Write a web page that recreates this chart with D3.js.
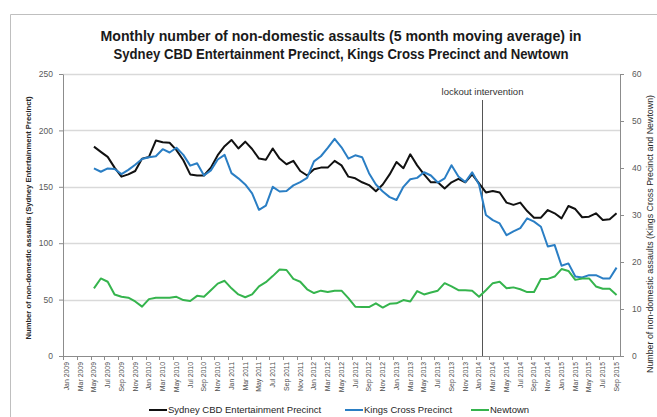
<!DOCTYPE html>
<html>
<head>
<meta charset="utf-8">
<script src="https://cdnjs.cloudflare.com/ajax/libs/d3/7.8.5/d3.min.js"></script>
<style>
body { margin: 0; background: #fff; }
svg { font-family: "Liberation Sans", Arial, sans-serif; }
</style>
</head>
<body>
<svg id="chart" width="657" height="417"></svg>
<script>
// categories: every month from Jan 2009 to Sep 2015
var monthNames = ["Jan","Feb","Mar","Apr","May","Jun","Jul","Aug","Sep","Oct","Nov","Dec"];
var years = [2009, 2010, 2011, 2012, 2013, 2014, 2015];
var lastMonth = "Sep 2015";
var firstDataMonth = "May 2009";
var lockoutMonth = "Feb 2014";

var months = [];
years.forEach(function (y) {
	monthNames.forEach(function (m) { months.push(m + " " + y); });
});
months = months.slice(0, months.indexOf(lastMonth) + 1);

// Sydney CBD Entertainment Precinct (left axis), May 2009 - Sep 2015
var sydney = [
	185.6, 181, 176.5, 167, 159, 161, 164, 175,
	176.5, 191, 189.5, 189, 182.5, 173.5, 161, 160, 160, 167, 178, 186,
	191.5, 184, 190, 183.5, 175, 174, 184, 175, 170, 173, 164, 160,
	165.5, 167, 167, 173, 169, 159, 157.5, 154, 151.5, 146, 152, 161,
	172, 166.5, 178.8, 169, 161, 154, 154, 148.6, 154, 157, 154, 161,
	153, 145, 146.3, 145, 136, 134, 136, 128.5, 122.6, 122.6, 129.4, 126.5,
	122, 133, 130.3, 123, 123.5, 126.5, 120.6, 121.2, 126.5
];

// Kings Cross Precinct (right axis)
var kingsCross = [
	39.9, 39.2, 39.9, 39.8, 38.7, 39.6, 40.7, 41.9,
	42.3, 42.5, 44.0, 43.3, 44.3, 42.8, 40.5, 41.0, 38.4, 39.5, 41.8, 42.8,
	38.9, 37.8, 36.5, 34.6, 31.1, 32.0, 36.0, 35.0, 35.1, 36.3, 37.0, 37.9,
	41.4, 42.5, 44.3, 46.2, 44.4, 42.0, 42.7, 42.3, 38.9, 36.5, 35.0, 33.8,
	33.2, 36.0, 37.6, 37.9, 39.1, 38.4, 36.9, 37.8, 40.6, 38.2, 37.0, 39.1,
	36.5, 30.0, 28.9, 28.2, 25.7, 26.5, 27.2, 29.3, 28.6, 27.5, 23.3, 23.6,
	19.2, 19.7, 16.9, 16.7, 17.2, 17.2, 16.5, 16.5, 18.8
];

// Newtown (right axis)
var newtown = [
	14.4, 16.5, 15.8, 13.1, 12.6, 12.4, 11.6, 10.5,
	12.1, 12.4, 12.4, 12.4, 12.6, 11.9, 11.7, 12.8, 12.6, 14.0, 15.4, 16.0,
	14.4, 13.1, 12.5, 13.1, 14.8, 15.7, 17.0, 18.4, 18.3, 16.4, 15.8, 14.2,
	13.4, 13.9, 13.6, 13.9, 13.9, 12.3, 10.5, 10.4, 10.4, 11.2, 10.3, 11.1,
	11.2, 11.9, 11.6, 13.8, 13.1, 13.5, 13.9, 15.5, 14.8, 14.0, 14.0, 13.9,
	12.6, 14.0, 15.5, 15.8, 14.4, 14.6, 14.2, 13.6, 13.6, 16.4, 16.4, 16.9,
	18.5, 18.1, 16.2, 16.5, 16.5, 14.8, 14.3, 14.3, 13.0
];

var leftTicks = [0, 50, 100, 150, 200, 250];
var rightTicks = [0, 10, 20, 30, 40, 50, 60];
var seriesNames = ["Sydney CBD Entertainment Precinct", "Kings Cross Precinct", "Newtown"];
var seriesColours = ["#111111", "#2a7ec4", "#35b44d"];

var titleLines = ["Monthly number of non-domestic assaults (5 month moving average) in",
	"Sydney CBD Entertainment Precinct, Kings Cross Precinct and Newtown"];

var svg = d3.select("#chart");
var plot = {left: 63, right: 620, top: 74, bottom: 356};

// outer frame
svg.append("path")
	.attr("d", "M10.5,417 V14.5 H657")
	.attr("fill", "none")
	.attr("stroke", "#bfbfbf");

// scales
var x = d3.scaleBand().domain(months).range([plot.left, plot.right]);
var yLeft = d3.scaleLinear().domain([0, 250]).range([plot.bottom, plot.top]);
var yRight = d3.scaleLinear().domain([0, 60]).range([plot.bottom, plot.top]);

//gridlines
svg.append("g").selectAll("line")
	.data(leftTicks.filter(function (d) { return d > 0; }))
	.enter().append("line")
	.attr("x1", plot.left).attr("x2", plot.right)
	.attr("y1", function (d) { return Math.round(yLeft(d)) + 0.5; })
	.attr("y2", function (d) { return Math.round(yLeft(d)) + 0.5; })
	.attr("stroke", "#d9d9d9")
	.attr("stroke-width", 1.3);

//left axis
var gl = svg.append("g")
	.attr("transform", "translate(" + plot.left + ",0)")
	.call(d3.axisLeft(yLeft).tickValues(leftTicks).tickSize(4).tickPadding(6).tickSizeOuter(0));
gl.select(".domain").attr("stroke", "#8c8c8c");
gl.selectAll(".tick line").attr("stroke", "#8c8c8c");
gl.selectAll("text").attr("fill", "#595959").style("font-size", "8.5px");

//right axis
var gr = svg.append("g")
	.attr("transform", "translate(" + plot.right + ",0)")
	.call(d3.axisRight(yRight).tickValues(rightTicks).tickSize(4).tickPadding(8).tickSizeOuter(0));
gr.select(".domain").attr("stroke", "#8c8c8c");
gr.selectAll(".tick line").attr("stroke", "#8c8c8c");
gr.selectAll("text").attr("fill", "#595959").style("font-size", "8.5px");

//x axis
var labelled = months.filter(function (d, i) { return i % 2 == 0; });
var gx = svg.append("g")
	.attr("transform", "translate(0," + plot.bottom + ")")
	.call(d3.axisBottom(x).tickValues(labelled).tickSize(0).tickSizeOuter(0));
gx.select(".domain").attr("stroke", "#8c8c8c");
gx.selectAll("text")
	.attr("fill", "#4d4d4d")
	.style("font-size", "6.9px")
	.attr("x", -6)
	.attr("y", 0)
	.attr("dy", "0.35em")
	.attr("transform", "rotate(-90)")
	.style("text-anchor", "end");

// tick marks on category boundaries
svg.append("g").selectAll("line")
	.data(labelled)
	.enter().append("line")
	.attr("x1", function (d) { return Math.round(x(d)) + 0.5; })
	.attr("x2", function (d) { return Math.round(x(d)) + 0.5; })
	.attr("y1", plot.bottom)
	.attr("y2", plot.bottom + 4)
	.attr("stroke", "#8c8c8c");

// lockout intervention marker
var lx = Math.round(x(lockoutMonth)) + 0.5;
svg.append("line")
	.attr("x1", lx).attr("x2", lx)
	.attr("y1", 100).attr("y2", plot.bottom)
	.attr("stroke", "#555")
	.attr("stroke-width", 1);
svg.append("text")
	.attr("x", lx)
	.attr("y", 95)
	.attr("text-anchor", "middle")
	.attr("fill", "#333")
	.style("font-size", "9.5px")
	.text("lockout intervention");

// lines
var start = months.indexOf(firstDataMonth);
function toPoints(values) {
	return values.map(function (v, i) { return {month: months[start + i], value: v}; });
}
var series = [
	{name: seriesNames[0], colour: seriesColours[0], data: toPoints(sydney), y: yLeft},
	{name: seriesNames[1], colour: seriesColours[1], data: toPoints(kingsCross), y: yRight},
	{name: seriesNames[2], colour: seriesColours[2], data: toPoints(newtown), y: yRight}
];

series.forEach(function (s) {
	var line = d3.line()
		.x(function (d) { return x(d.month) + x.bandwidth() / 2; })
		.y(function (d) { return s.y(d.value); });
	svg.append("path")
		.datum(s.data)
		.attr("d", line)
		.attr("fill", "none")
		.attr("stroke", s.colour)
		.attr("stroke-width", 2)
		.attr("stroke-linejoin", "round");
});

//title
svg.append("g").selectAll("text")
	.data(titleLines)
	.enter().append("text")
	.attr("x", 341)
	.attr("y", function (d, i) { return 41 + i * 18; })
	.attr("text-anchor", "middle")
	.attr("fill", "#1a1a1a")
	.style("font-size", "15px")
	.style("font-weight", "bold")
	.attr("textLength", function (d, i) { return i == 0 ? 481 : 455; })
	.attr("lengthAdjust", "spacingAndGlyphs")
	.text(function (d) { return d; });

//axis titles
svg.append("text")
	.attr("transform", "translate(31,218) rotate(-90)")
	.attr("text-anchor", "middle")
	.attr("fill", "#262626")
	.style("font-size", "8px")
	.style("font-weight", "bold")
	.attr("textLength", 243)
	.attr("lengthAdjust", "spacingAndGlyphs")
	.text("Number of non-domestic assaults (Sydney Entertainment Precinct)");

svg.append("text")
	.attr("transform", "translate(653,234) rotate(-90)")
	.attr("text-anchor", "middle")
	.attr("fill", "#262626")
	.style("font-size", "8.5px")
	.attr("textLength", 278)
	.attr("lengthAdjust", "spacingAndGlyphs")
	.text("Number of non-domestic assaults (Kings Cross Precinct and Newtown)");

//legend
var legendX = [149, 345, 471];
var legend = svg.append("g").selectAll("g")
	.data(series)
	.enter().append("g")
	.attr("transform", function (d, i) { return "translate(" + legendX[i] + ",410)"; });
legend.append("line")
	.attr("x1", 0).attr("x2", 18)
	.attr("stroke", function (d) { return d.colour; })
	.attr("stroke-width", 2);
legend.append("text")
	.attr("x", 19)
	.attr("dy", "0.35em")
	.attr("fill", "#262626")
	.style("font-size", "9.5px")
	.text(function (d) { return d.name; });
</script>
</body>
</html>
